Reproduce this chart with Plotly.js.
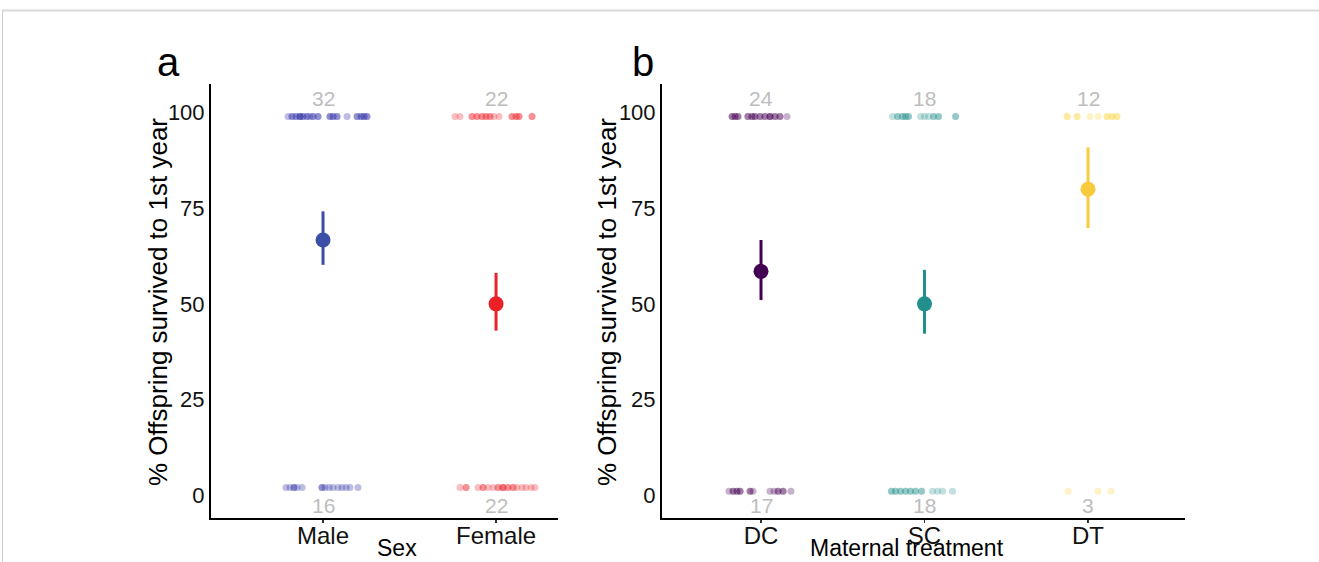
<!DOCTYPE html>
<html>
<head>
<meta charset="utf-8">
<script src="https://cdn.plot.ly/plotly-3.0.1.min.js"></script>
<style>html,body{margin:0;padding:0;background:#fff;}#chart{width:1319px;height:562px;}</style>
</head>
<body>
<div id="chart"></div>
<script>
// ---------- Panel a: Sex ----------
const sexCats = ['Male', 'Female'];
const sexColors = ['#3a4fa6', '#ec2127'];
const sexDotColors = ['rgba(55,55,170,0.33)', 'rgba(236,40,48,0.30)'];
const sexMean = [66.7, 50.0];
const sexUpper = [74.2, 58.1];
const sexLower = [60.2, 43.0];
const sexTopN = [32, 22];
const sexBottomN = [16, 22];
const sexSurvivedY = 99;
const sexDiedY = 2;
// jitter offsets (in category widths)
const maleTopJitter = [-0.202,-0.179,-0.179,-0.156,-0.156,-0.133,-0.133,-0.133,-0.116,-0.116,-0.092,-0.092,-0.075,-0.058,-0.058,-0.029,-0.029,0.040,0.040,0.058,0.058,0.081,0.081,0.139,0.197,0.197,0.220,0.220,0.237,0.237,0.254,0.254];
const maleBottomJitter = [-0.214,-0.191,-0.168,-0.168,-0.150,-0.121,-0.006,-0.006,0.012,0.035,0.058,0.087,0.110,0.133,0.156,0.202];
const femaleTopJitter = [-0.237,-0.208,-0.139,-0.139,-0.110,-0.110,-0.081,-0.081,-0.058,-0.058,-0.035,-0.035,-0.012,0.017,0.092,0.092,0.116,0.116,0.133,0.133,0.208,0.208];
const femaleBottomJitter = [-0.208,-0.173,-0.173,-0.104,-0.075,-0.075,-0.046,-0.017,0.012,0.012,0.040,0.040,0.040,0.069,0.069,0.098,0.098,0.121,0.150,0.173,0.202,0.225];

// ---------- Panel b: Maternal treatment ----------
const trtCats = ['DC', 'SC', 'DT'];
const trtColors = ['#440154', '#21908c', '#f9c93e'];
const trtDotColors = ['rgba(68,1,84,0.30)', 'rgba(33,144,140,0.28)', 'rgba(249,215,70,0.30)'];
const trtMean = [58.5, 50.0, 80.0];
const trtUpper = [66.7, 58.9, 90.9];
const trtLower = [51.0, 42.2, 69.8];
const trtTopN = [24, 18, 12];
const trtBottomN = [17, 18, 3];
const trtSurvivedY = 99;
const trtDiedY = 1;
const dcTopJitter = [-0.177,-0.177,-0.159,-0.159,-0.141,-0.141,-0.080,-0.080,-0.055,-0.055,-0.037,-0.037,-0.006,-0.006,0.024,0.024,0.055,0.055,0.055,0.086,0.086,0.116,0.116,0.159];
const dcBottomJitter = [-0.196,-0.171,-0.171,-0.147,-0.147,-0.128,-0.128,-0.067,-0.067,-0.049,0.055,0.080,0.104,0.104,0.135,0.135,0.183];
const scTopJitter = [-0.196,-0.165,-0.165,-0.135,-0.135,-0.116,-0.116,-0.098,-0.098,-0.024,0,0.024,0.055,0.055,0.086,0.086,0.190,0.190];
const scBottomJitter = [-0.202,-0.202,-0.177,-0.177,-0.147,-0.147,-0.116,-0.116,-0.086,-0.086,-0.055,-0.055,-0.018,-0.018,0.049,0.080,0.110,0.171];
const dtTopJitter = [-0.128,-0.128,-0.067,-0.067,0.012,0.061,0.116,0.116,0.147,0.147,0.177,0.177];
const dtBottomJitter = [-0.122,0.061,0.141];

const yTicks = [0, 25, 50, 75, 100];
const yTitle = '% Offspring survived to 1st year';
const panelLabels = ['a', 'b'];
const xTitles = ['Sex', 'Maternal treatment'];

const FONT = 'Liberation Sans, Arial, sans-serif';
const W = 1319, H = 562;
const traces = [];

function dots(idx, jit, y, color, xa, ya) {
  traces.push({
    type: 'scatter', mode: 'markers', xaxis: xa, yaxis: ya, hoverinfo: 'skip',
    x: jit.map(j => idx + j), y: jit.map(() => y),
    marker: {size: 7, color: color, line: {width: 0}}, showlegend: false
  });
}
function meanPoint(idx, m, up, lo, color, xa, ya) {
  traces.push({
    type: 'scatter', mode: 'markers', xaxis: xa, yaxis: ya,
    x: [idx], y: [m],
    error_y: {type: 'data', symmetric: false, array: [up - m], arrayminus: [m - lo], thickness: 3, width: 0, color: color},
    marker: {size: 15, color: color, line: {width: 0}}, showlegend: false
  });
}

const sexTop = [maleTopJitter, femaleTopJitter];
const sexBot = [maleBottomJitter, femaleBottomJitter];
sexCats.forEach((c, i) => {
  dots(i + 1, sexTop[i], sexSurvivedY, sexDotColors[i], 'x', 'y');
  dots(i + 1, sexBot[i], sexDiedY, sexDotColors[i], 'x', 'y');
});
sexCats.forEach((c, i) => meanPoint(i + 1, sexMean[i], sexUpper[i], sexLower[i], sexColors[i], 'x', 'y'));

const trtTop = [dcTopJitter, scTopJitter, dtTopJitter];
const trtBot = [dcBottomJitter, scBottomJitter, dtBottomJitter];
trtCats.forEach((c, i) => {
  dots(i + 1, trtTop[i], trtSurvivedY, trtDotColors[i], 'x2', 'y2');
  dots(i + 1, trtBot[i], trtDiedY, trtDotColors[i], 'x2', 'y2');
});
trtCats.forEach((c, i) => meanPoint(i + 1, trtMean[i], trtUpper[i], trtLower[i], trtColors[i], 'x2', 'y2'));

const annotations = [];
const countFont = {family: FONT, size: 21, color: '#bdbdbd'};
sexCats.forEach((c, i) => {
  annotations.push({xref: 'x', yref: 'y', x: i + 1, y: 103.8, text: String(sexTopN[i]), showarrow: false, font: countFont});
  annotations.push({xref: 'x', yref: 'y', x: i + 1, y: -2.6, text: String(sexBottomN[i]), showarrow: false, font: countFont});
});
trtCats.forEach((c, i) => {
  annotations.push({xref: 'x2', yref: 'y2', x: i + 1, y: 103.8, text: String(trtTopN[i]), showarrow: false, font: countFont});
  annotations.push({xref: 'x2', yref: 'y2', x: i + 1, y: -2.6, text: String(trtBottomN[i]), showarrow: false, font: countFont});
});
// panel letters
[168, 643].forEach((px, i) => annotations.push({
  xref: 'paper', yref: 'paper', x: px / W, y: 1 - 62 / H, xanchor: 'center', yanchor: 'middle',
  text: panelLabels[i], showarrow: false, font: {family: FONT, size: 40, color: '#000'}
}));
// y axis titles
[158, 607].forEach(px => annotations.push({
  xref: 'paper', yref: 'paper', x: px / W, y: 1 - 302 / H, xanchor: 'center', yanchor: 'middle',
  text: yTitle, textangle: -90, showarrow: false, font: {family: FONT, size: 26, color: '#000'}
}));
// x axis titles
[[397, 548], [907, 548]].forEach((p, i) => annotations.push({
  xref: 'paper', yref: 'paper', x: p[0] / W, y: 1 - p[1] / H, xanchor: 'center', yanchor: 'middle',
  text: xTitles[i], showarrow: false, font: {family: FONT, size: 23, color: '#000'}
}));

const xBase = {
  showline: true, linecolor: '#000', linewidth: 2, showgrid: false, zeroline: false,
  ticks: 'outside', ticklen: 3, tickwidth: 1.5, tickcolor: '#333', ticklabelstandoff: -8,
  tickfont: {family: FONT, size: 24, color: '#111'}, automargin: false, fixedrange: true
};
const yBase = {
  showline: true, linecolor: '#000', linewidth: 2, showgrid: false, zeroline: false,
  ticks: '', tickvals: yTicks, ticktext: yTicks.map(String), range: [-6, 107.5],
  tickfont: {family: FONT, size: 22, color: '#111'}, automargin: false, fixedrange: true
};

const layout = {
  width: W, height: H,
  margin: {l: 0, r: 0, t: 0, b: 0},
  paper_bgcolor: '#fff', plot_bgcolor: '#fff',
  showlegend: false,
  xaxis: Object.assign({}, xBase, {
    domain: [211 / W, 558 / W], range: [0.3526, 2.358],
    tickvals: sexCats.map((c, i) => i + 1), ticktext: sexCats
  }),
  yaxis: Object.assign({}, yBase, {domain: [44 / H, 478 / H], anchor: 'x'}),
  xaxis2: Object.assign({}, xBase, {
    domain: [662 / W, 1185 / W], range: [0.3945, 3.593], anchor: 'y2',
    tickvals: trtCats.map((c, i) => i + 1), ticktext: trtCats
  }),
  yaxis2: Object.assign({}, yBase, {domain: [44 / H, 478 / H], anchor: 'x2'}),
  annotations: annotations,
  shapes: [
    {type: 'line', xref: 'paper', yref: 'paper', x0: 2 / W, x1: 1, y0: 1 - 10.5 / H, y1: 1 - 10.5 / H, line: {color: '#d9d9d9', width: 2}},
    {type: 'line', xref: 'paper', yref: 'paper', x0: 2.5 / W, x1: 2.5 / W, y0: 0, y1: 1 - 10 / H, line: {color: '#cfcfcf', width: 1}}
  ]
};

Plotly.newPlot('chart', traces, layout, {displayModeBar: false, staticPlot: true});
</script>
</body>
</html>
